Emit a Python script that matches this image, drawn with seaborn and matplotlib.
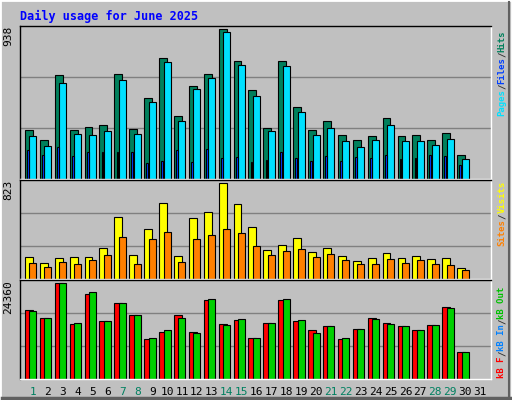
import numpy as np
import pandas as pd
import matplotlib
matplotlib.use("Agg")
import matplotlib.pyplot as plt
import seaborn as sns

# ---- Data ----
days = list(range(1, 31))
hits = [306, 242, 651, 306, 325, 338, 657, 313, 504, 759, 396, 581, 657, 938, 740,
        555, 319, 740, 453, 306, 364, 274, 242, 268, 383, 268, 274, 242, 287, 153]
files = [268, 204, 600, 281, 274, 300, 619, 281, 479, 734, 364, 562, 632, 919, 715,
         517, 300, 708, 421, 274, 319, 236, 198, 242, 338, 236, 236, 211, 249, 128]
pages = [179, 153, 198, 147, 172, 166, 172, 172, 102, 115, 179, 108, 185, 134, 140,
         108, 121, 172, 134, 115, 147, 115, 140, 134, 153, 128, 134, 153, 147, 89]
visits = [188, 134, 179, 188, 188, 268, 528, 206, 429, 653, 197, 519, 573, 823, 644,
          447, 250, 295, 349, 233, 268, 197, 152, 179, 224, 179, 197, 170, 179, 98]
sites = [134, 107, 143, 125, 161, 206, 358, 125, 340, 403, 143, 340, 376, 429, 394,
         286, 206, 242, 259, 188, 215, 161, 125, 125, 170, 134, 161, 125, 116, 81]
kb_f = [17400, 15526, 24360, 13920, 21683, 14723, 19274, 16329, 10172, 12046, 16329,
        12046, 20077, 13920, 14991, 10440, 14188, 20077, 14723, 12314, 13385, 10172,
        12582, 15526, 14188, 13385, 12314, 13652, 18203, 6960]
kb_out = [17132, 15526, 24360, 14188, 21951, 14723, 19274, 16329, 10440, 12314, 15526,
          11778, 20345, 13652, 15258, 10440, 14188, 20345, 14991, 11778, 13385, 10440,
          12582, 15258, 13920, 13385, 12314, 13652, 17935, 6960]
weekends = [1, 7, 8, 14, 15, 21, 22, 28, 29]

BG = "#C0C0C0"
W, H = 512, 400
fig = plt.figure(figsize=(W / 100, H / 100), dpi=100, facecolor=BG)
plt.rcParams["font.family"] = ["DejaVu Sans Mono"]

# bevel border
fig.add_artist(plt.Rectangle((0, 0), 1, 1, transform=fig.transFigure, fill=False,
                             edgecolor="white", lw=2))
fig.add_artist(plt.Line2D([0.004, 0.996], [0.006, 0.006], transform=fig.transFigure,
                          color="#606060", lw=2.5))
fig.add_artist(plt.Line2D([0.995, 0.995], [0.006, 0.995], transform=fig.transFigure,
                          color="#606060", lw=1.5))

fig.text(20 / W, 1 - 16 / H, "Daily usage for June 2025", color="#0000FF",
         fontsize=8.5, fontweight="bold", va="center", ha="left")

x0, x1 = 20, 491
CH = 5.4  # pixel advance per char at fontsize 6.5 mono


def panel(top, bottom):
    return fig.add_axes([x0 / W, 1 - bottom / H, (x1 - x0) / W, (bottom - top) / H])


def bars(ax, vals, offset, width, color):
    df = pd.DataFrame({"x": np.array(days) + offset, "y": vals})
    sns.barplot(data=df, x="x", y="y", native_scale=True, width=width, color=color,
                edgecolor="black", linewidth=0.8, saturation=1, ax=ax)


def side_label(parts, y_bottom=None, y_top=None):
    n = sum(len(t) for t, _ in parts)
    if y_bottom is None:
        y_bottom = y_top + n * CH
    y = y_bottom
    for txt, col in parts:
        fig.text(502 / W, 1 - y / H, txt, rotation=90, ha="center", va="bottom",
                 fontsize=6.5, color=col, fontweight="bold")
        y -= len(txt) * CH


def style(ax, ymax, label):
    ax.set_facecolor(BG)
    ax.set_xlim(0.13, 31.74)
    ax.set_ylim(0, ymax)
    for v in (ymax / 3, 2 * ymax / 3):
        ax.axhline(v, color="#808080", lw=1, zorder=0)
    ax.set_xticks([])
    ax.set_yticks([])
    ax.set_xlabel("")
    ax.set_ylabel("")
    for s in ax.spines.values():
        s.set_color("black")
        s.set_linewidth(1)
    ax.spines["right"].set_color("white")
    ax.spines["bottom"].set_color("white")
    ax.text(-0.015, 1.0, label, transform=ax.transAxes, rotation=90, ha="right",
            va="top", fontsize=8)


SEP = "#303030"
ax1 = panel(26, 179)
bars(ax1, hits, -0.27, 0.53, "#00805C")
bars(ax1, files, 0.0, 0.47, "#00E0FF")
bars(ax1, pages, -0.33, 0.12, "#0040FF")
style(ax1, 938 / 0.98, "938")
side_label([("Pages", "#00E0FF"), ("/", SEP), ("Files", "#0040FF"), ("/", SEP),
            ("Hits", "#00805C")], y_top=30)

ax2 = panel(180, 279)
bars(ax2, visits, -0.27, 0.53, "#FFFF00")
bars(ax2, sites, 0.0, 0.47, "#FF8000")
style(ax2, 823 / 0.97, "823")
side_label([("Sites", "#FF8000"), ("/", SEP), ("Visits", "#FFFF00")], y_top=181)

ax3 = panel(280, 379)
bars(ax3, kb_f, -0.27, 0.53, "#FF0000")
bars(ax3, kb_out, 0.0, 0.47, "#00D000")
style(ax3, 24360 / 0.97, "24360")
side_label([("kB F", "#FF0000"), ("/", SEP), ("kB In", "#0080FF"), ("/", SEP),
            ("kB Out", "#00C000")], y_bottom=378)

for d in range(1, 32):
    ax3.text(d, -0.08, str(d), transform=ax3.get_xaxis_transform(), ha="center",
             va="top", fontsize=8, color="#008060" if d in weekends else "black")

fig.savefig("out.png", dpi=100, facecolor=BG)
